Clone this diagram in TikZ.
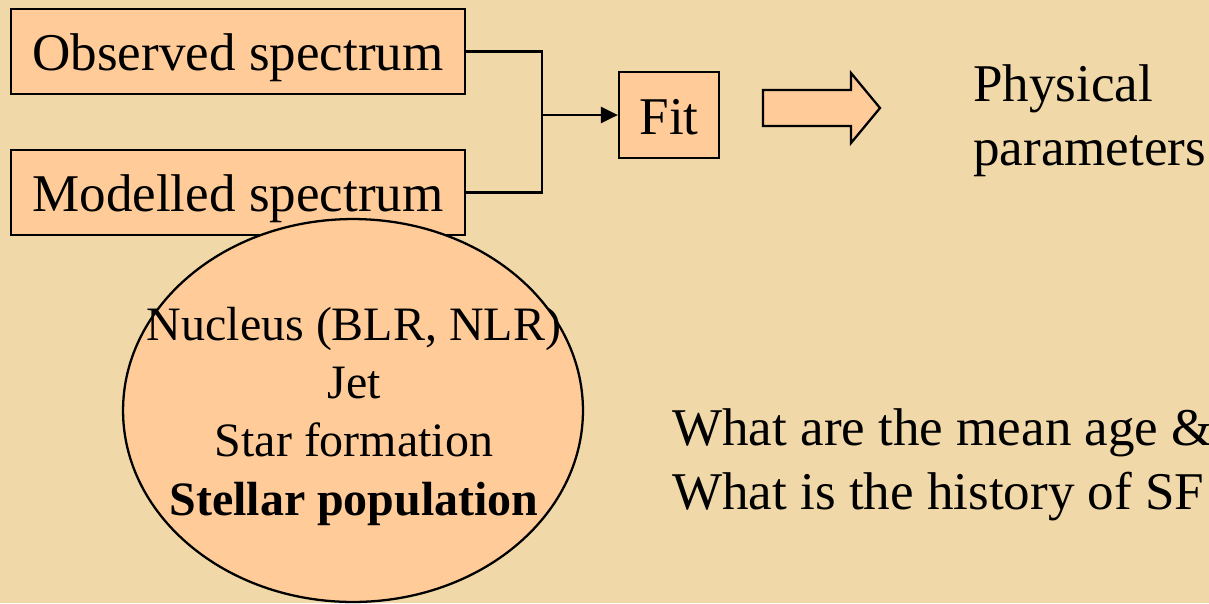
\documentclass[tikz,border=0pt]{standalone}
\usepackage{fontspec}
\setmainfont{Liberation Serif}
\usetikzlibrary{arrows.meta,shapes.geometric}
\definecolor{slidetan}{RGB}{240,216,168}
\definecolor{slidepeach}{RGB}{255,204,153}

\begin{document}
\begin{tikzpicture}[x=0.02cm, y=-0.02cm,
  box/.style={draw, line width=1.3pt, fill=slidepeach, inner sep=0pt,
    text height=0.76cm, text depth=0pt, font=\fontsize{30.2}{36.4}\selectfont},
  big/.style={font=\fontsize{30.2}{36.4}\selectfont, inner sep=0pt, align=left}]

% Background
\fill[slidetan] (0,0) rectangle (1209,603);
\useasboundingbox (0,0) rectangle (1209,603);

% Spectra
\node[box, minimum width=9.08cm, minimum height=1.7cm] (obs) at (238,51.5) {Observed spectrum};
\node[box, minimum width=9.08cm, minimum height=1.7cm] (mod) at (238,192.5) {Modelled spectrum};

% Fit
\node[box, minimum width=2cm, minimum height=1.72cm] (fit) at (669,115) {Fit};
\coordinate (join) at (542,115);
\draw[line width=1.3pt] (obs.east) -| (join) |- (mod.east);
\draw[line width=1.3pt, -{Triangle[length=0.34cm,width=0.32cm]}] (join) -- (fit.west);

% Result
\draw[line width=1.3pt, fill=slidepeach, line join=miter]
  (763,90) -- (851,90) -- (851,73) -- (880,108) -- (851,143) -- (851,126) -- (763,126) -- cycle;
\node[big, anchor=base west] (phys) at (973,165) {Physical\\parameters};

% Components
\node[ellipse, draw, line width=1.3pt, fill=slidepeach, minimum width=9.2cm,
  minimum height=7.66cm, inner sep=0pt] (pop) at (353,410.5) {};
\node[font=\fontsize{27.3}{33.2}\selectfont, align=center, inner sep=0pt, anchor=base]
  (comp) at (354,515) {Nucleus (BLR, NLR)\\Jet\\Star formation\\\textbf{Stellar population}};

% Questions
\node[big, anchor=base west] (quest) at (672,509) {What are the mean age \&\\What is the history of SF};
\end{tikzpicture}
\end{document}
